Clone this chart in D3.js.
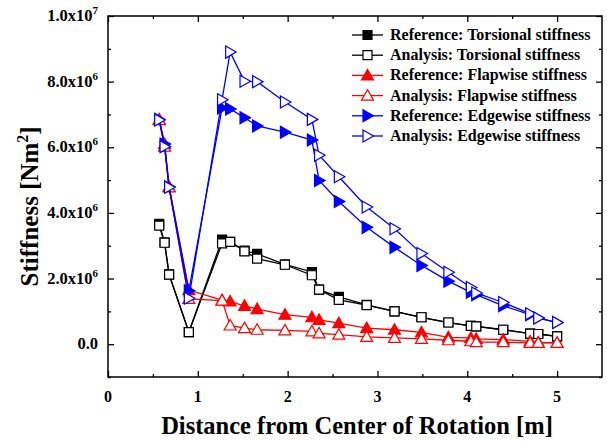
<!DOCTYPE html>
<html>
<head>
<meta charset="utf-8">
<script src="https://cdn.jsdelivr.net/npm/d3@7"></script>
<style>
  body { margin: 0; background: #fff; }
  svg text { font-family: "Liberation Serif", "Times New Roman", serif; font-weight: bold; }
</style>
</head>
<body>
<svg id="chart"></svg>
<script>
// chart size
const width = 607;
const height = 441;

// radial stations [m]
const stations = [0.57, 0.63, 0.68, 0.9, 1.27, 1.36, 1.52, 1.66, 1.97, 2.27, 2.35,
                  2.57, 2.88, 3.19, 3.49, 3.79, 4.04, 4.1, 4.4, 4.7, 4.79, 5.0];

// stiffness values in 1e6 Nm^2
const refTorsional = [3.67, 3.1, 2.13, 0.37, 3.19, 3.12, 2.85, 2.75, 2.43, 2.2, 1.66,
                      1.44, 1.2, 1.0, 0.82, 0.66, 0.56, 0.54, 0.44, 0.32, 0.31, 0.24];
const anaTorsional = [3.61, 3.09, 2.12, 0.37, 3.07, 3.12, 2.83, 2.61, 2.42, 2.1, 1.66,
                      1.35, 1.19, 1.0, 0.82, 0.66, 0.56, 0.54, 0.44, 0.32, 0.31, 0.24];
const refFlapwise = [6.85, 6.1, 4.8, 1.65, 1.34, 1.3, 1.17, 1.07, 0.9, 0.82, 0.74,
                     0.64, 0.49, 0.44, 0.36, 0.21, 0.19, 0.16, 0.14, 0.085, 0.055, 0.04];
const anaFlapwise = [6.83, 6.02, 4.78, 1.38, 1.33, 0.57, 0.49, 0.44, 0.42, 0.39, 0.33,
                     0.29, 0.22, 0.19, 0.16, 0.12, 0.09, 0.06, 0.06, 0.04, 0.04, 0.04];
const refEdgewise = [6.85, 6.1, 4.8, 1.63, 7.2, 7.17, 6.9, 6.65, 6.46, 6.22, 4.99,
                     4.35, 3.56, 2.95, 2.4, 1.92, 1.58, 1.51, 1.17, 0.9, 0.8, 0.66];
const anaEdgewise = [6.83, 6.02, 4.78, 1.4, 7.45, 8.9, 8.01, 8.0, 7.38, 6.85, 5.76,
                     5.1, 4.18, 3.52, 2.76, 2.19, 1.73, 1.56, 1.27, 0.93, 0.8, 0.66];

const seriesNames = ["Reference: Torsional stiffness", "Analysis: Torsional stiffness",
                     "Reference: Flapwise stiffness", "Analysis: Flapwise stiffness",
                     "Reference: Edgewise stiffness", "Analysis: Edgewise stiffness"];
const seriesValues = [refTorsional, anaTorsional, refFlapwise, anaFlapwise, refEdgewise, anaEdgewise];
const seriesColors = ["#000000", "#000000", "#ff0000", "#ff0000", "#0000ff", "#0000ff"];
const seriesShapes = ["square", "square", "up", "up", "right", "right"];
const seriesFilled = [true, false, true, false, true, false];

const xTicks = [0, 1, 2, 3, 4, 5];
const yTicks = [0, 2, 4, 6, 8, 10];
const yTickLabels = [["0.0", ""], ["2.0x10", "6"], ["4.0x10", "6"], ["6.0x10", "6"], ["8.0x10", "6"], ["1.0x10", "7"]];

const margin = {left: 108, right: 5, top: 16, bottom: 64};

const svg = d3.select("#chart")
              .attr("width", width)
              .attr("height", height);

const x = d3.scaleLinear().domain([0, 5.5]).range([margin.left, width - margin.right]);
const y = d3.scaleLinear().domain([-1, 10]).range([height - margin.bottom, margin.top]);

// frame
svg.append("rect")
   .attr("x", x(0)).attr("y", y(10))
   .attr("width", x(5.5) - x(0)).attr("height", y(-1) - y(10))
   .attr("fill", "none").attr("stroke", "#000").attr("stroke-width", 1.5);

// ticks on all four sides, pointing inward
function drawTicks(axis, pos) {
  const g = svg.append("g").attr("transform", pos);
  g.call(axis);
  g.select(".domain").remove();
  g.selectAll("line").attr("stroke", "#000").attr("stroke-width", 1.3);
  g.selectAll("text").remove();
}
const xMinor = d3.range(0.5, 5.5, 1);
const yMinor = d3.range(-1, 10, 2);
drawTicks(d3.axisBottom(x).tickValues(xTicks).tickSize(-6), `translate(0,${y(-1)})`);
drawTicks(d3.axisBottom(x).tickValues(xMinor).tickSize(-3), `translate(0,${y(-1)})`);
drawTicks(d3.axisTop(x).tickValues(xTicks).tickSize(-6), `translate(0,${y(10)})`);
drawTicks(d3.axisTop(x).tickValues(xMinor).tickSize(-3), `translate(0,${y(10)})`);
drawTicks(d3.axisLeft(y).tickValues(yTicks).tickSize(-6), `translate(${x(0)},0)`);
drawTicks(d3.axisLeft(y).tickValues(yMinor).tickSize(-3), `translate(${x(0)},0)`);
drawTicks(d3.axisRight(y).tickValues(yTicks).tickSize(-6), `translate(${x(5.5)},0)`);
drawTicks(d3.axisRight(y).tickValues(yMinor).tickSize(-3), `translate(${x(5.5)},0)`);

// x tick labels
svg.append("g").selectAll("text")
   .data(xTicks)
   .enter().append("text")
   .attr("x", d => x(d))
   .attr("y", y(-1) + 25)
   .attr("text-anchor", "middle")
   .attr("font-size", 16)
   .text(d => d);

// y tick labels with superscript exponent
const yl = svg.append("g").selectAll("text")
   .data(yTicks)
   .enter().append("text")
   .attr("x", x(0) - 10)
   .attr("y", d => y(d) + 5)
   .attr("text-anchor", "end")
   .attr("font-size", 16.5);
yl.append("tspan").text((d, i) => yTickLabels[i][0]);
yl.append("tspan")
  .attr("dy", -7)
  .attr("font-size", 11)
  .text((d, i) => yTickLabels[i][1]);

// axis titles
svg.append("text")
   .attr("x", 357).attr("y", 434)
   .attr("text-anchor", "middle")
   .attr("font-size", 24.5)
   .text("Distance from Center of Rotation [m]");

const yTitle = svg.append("text")
   .attr("transform", `translate(38,${y(4.2)}) rotate(-90)`)
   .attr("text-anchor", "middle")
   .attr("font-size", 25);
yTitle.append("tspan").text("Stiffness [Nm");
yTitle.append("tspan").attr("dy", -10).attr("font-size", 16).text("2");
yTitle.append("tspan").attr("dy", 10).text("]");

// marker path generator
function markerPath(shape) {
  if (shape === "square") return "M-4.5,-4.5H4.5V4.5H-4.5Z";
  if (shape === "up") return "M0,-6L6,4.5H-6Z";
  return "M-4.5,-6L6,0L-4.5,6Z";
}

const line = d3.line().x(d => x(d[0])).y(d => y(d[1]));

seriesValues.forEach((vals, i) => {
  const pts = stations.map((s, j) => [s, vals[j]]);
  const g = svg.append("g");
  g.append("path")
   .attr("d", line(pts))
   .attr("fill", "none")
   .attr("stroke", seriesColors[i])
   .attr("stroke-width", 1.3);
  g.selectAll("path.m")
   .data(pts)
   .enter().append("path")
   .attr("class", "m")
   .attr("d", markerPath(seriesShapes[i]))
   .attr("transform", d => `translate(${x(d[0])},${y(d[1])})`)
   .attr("fill", seriesFilled[i] ? seriesColors[i] : "#fff")
   .attr("stroke", seriesColors[i])
   .attr("stroke-width", 1.2);
});

// legend
const legend = svg.append("g");
seriesNames.forEach((name, i) => {
  const ly = 35 + i * 20.2;
  legend.append("line")
        .attr("x1", 352).attr("x2", 383)
        .attr("y1", ly).attr("y2", ly)
        .attr("stroke", seriesColors[i]).attr("stroke-width", 1.3);
  legend.append("path")
        .attr("d", markerPath(seriesShapes[i]))
        .attr("transform", `translate(367.5,${ly})`)
        .attr("fill", seriesFilled[i] ? seriesColors[i] : "#fff")
        .attr("stroke", seriesColors[i])
        .attr("stroke-width", 1.2);
  legend.append("text")
        .attr("x", 390).attr("y", ly + 5)
        .attr("font-size", 16)
        .text(name);
});
</script>
</body>
</html>
